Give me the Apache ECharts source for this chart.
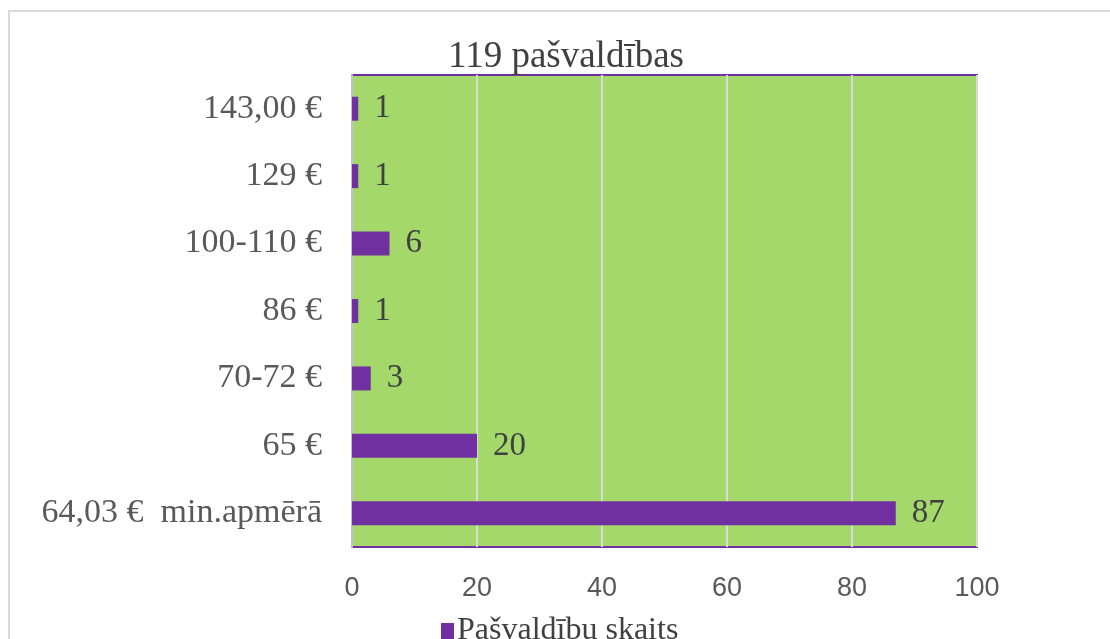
<!DOCTYPE html>
<html>
<head>
<meta charset="utf-8">
<script src="https://cdn.jsdelivr.net/npm/echarts@6/dist/echarts.min.js"></script>
<style>html,body{margin:0;padding:0;background:#fff;}#c{width:1110px;height:639px;}</style>
</head>
<body>
<div id="c"></div>
<script>
const categories = ['143,00 €', '129 €', '100-110 €', '86 €', '70-72 €', '65 €', '64,03 €  min.apmērā'];
const values = [1, 1, 6, 1, 3, 20, 87];
const xTicks = [0, 20, 40, 60, 80, 100];
const titleText = '119 pašvaldības';
const seriesName = 'Pašvaldību skaits';

const chart = echarts.init(document.getElementById('c'), null, {renderer: 'canvas'});
const serif = '"Liberation Serif", "Times New Roman", serif';
chart.setOption({
  animation: false,
  backgroundColor: '#ffffff',
  graphic: [
    {type: 'rect', z: -10, shape: {x: 9, y: 11, width: 1200, height: 700}, style: {fill: 'none', stroke: '#d9d9d9', lineWidth: 2}},
    {type: 'text', x: 566, y: 57, style: {text: titleText, font: '37px ' + serif, fill: '#404040', align: 'center', verticalAlign: 'middle'}}
  ],
  legend: {
    data: [seriesName],
    left: 436, top: 610,
    itemWidth: 13, itemHeight: 16, itemGap: 5,
    icon: 'rect',
    textStyle: {fontFamily: serif, fontSize: 32, color: '#404040', padding: [0,0,0,-2]}
  },
  grid: {left: 352, right: 133, top: 75, bottom: 92, show: true, backgroundColor: '#a4d86b', borderColor: '#7030a0', borderWidth: 2},
  xAxis: {
    type: 'value', min: xTicks[0], max: xTicks[xTicks.length-1], interval: 20,
    axisLine: {show: false}, axisTick: {show: false},
    splitLine: {show: true, lineStyle: {color: '#d9d9d9', width: 2}},
    axisLabel: {margin: 28, fontFamily: '"Liberation Sans Narrow", "Liberation Sans", sans-serif', fontSize: 27, color: '#595959'}
  },
  yAxis: {
    type: 'category', data: categories, inverse: true,
    axisLine: {show: true, lineStyle: {color: '#c9bcd6', width: 2}},
    axisTick: {show: false},
    axisLabel: {margin: 30, fontFamily: serif, fontSize: 34, color: '#595959'}
  },
  series: [{
    name: seriesName, type: 'bar', data: values, barWidth: 24,
    itemStyle: {color: '#7030a0'},
    label: {show: true, position: 'right', distance: 16, fontFamily: serif, fontSize: 33, color: '#404040'}
  }]
});
</script>
</body>
</html>
